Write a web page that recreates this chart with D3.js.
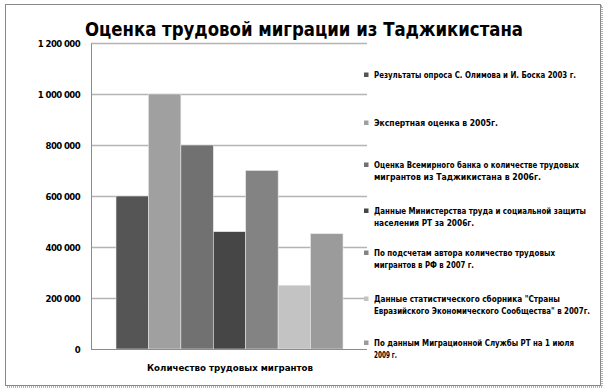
<!DOCTYPE html>
<html>
<head>
<meta charset="utf-8">
<script src="https://cdn.jsdelivr.net/npm/d3@7"></script>
<style>
  body { margin: 0; background: #fff; }
  text { font-family: "DejaVu Sans", sans-serif; font-weight: bold; fill: #000; }
</style>
</head>
<body>
<svg width="608" height="392"></svg>
<script>
const title = "Оценка трудовой миграции из Таджикистана";
const category = "Количество трудовых мигрантов";
const series = [
  ["Результаты опроса С. Олимова и И. Боска 2003 г."],
  ["Экспертная оценка в 2005г."],
  ["Оценка Всемирного банка о количестве трудовых", "мигрантов из Таджикистана в 2006г."],
  ["Данные Министерства труда и социальной защиты", "населения РТ за 2006г."],
  ["По подсчетам автора количество трудовых", "мигрантов в РФ в 2007 г."],
  ["Данные статистического сборника \"Страны", "Евразийского Экономического Сообщества\" в 2007г."],
  ["По данным Миграционной Службы РТ на 1 июля", "2009 г."]
];
const values = [600000, 1000000, 800000, 460000, 700000, 250000, 452000];
const colors = ["#555555", "#a0a0a0", "#717171", "#464646", "#838383", "#c3c3c3", "#9b9b9b"];
const yTicks = [0, 200000, 400000, 600000, 800000, 1000000, 1200000];

const svg = d3.select("svg");

// frame with dotted shadow
svg.append("rect")
  .attr("x", 7).attr("y", 6).attr("width", 595).attr("height", 381)
  .attr("fill", "none").attr("stroke", "#999").attr("stroke-width", 1.5)
  .attr("stroke-dasharray", "1,1");
svg.append("rect")
  .attr("x", 5.5).attr("y", 4.5).attr("width", 595).attr("height", 381)
  .attr("fill", "#fff").attr("stroke", "#888").attr("stroke-width", 1);

const pLeft = 91, pRight = 363, pTop = 43, pBottom = 349;

const y = d3.scaleLinear().domain([0, 1200000]).range([pBottom, pTop]);
const x = d3.scaleBand().domain(d3.range(values.length))
  .range([116, 343]).padding(0);

// gridlines
svg.append("g").selectAll("line")
  .data(yTicks.filter(d => d > 0))
  .enter().append("line")
  .attr("x1", pLeft).attr("x2", pRight + 4)
  .attr("y1", d => Math.round(y(d)) + 0.5).attr("y2", d => Math.round(y(d)) + 0.5)
  .attr("stroke", "#b4b4b4").attr("stroke-width", 1.5);

// bars
svg.append("g").selectAll("rect")
  .data(values)
  .enter().append("rect")
  .attr("x", (d, i) => x(i))
  .attr("y", d => y(d))
  .attr("width", x.bandwidth())
  .attr("height", d => pBottom - y(d))
  .attr("fill", (d, i) => colors[i])
  .attr("stroke", "#e6e6e6")
  .attr("stroke-width", 0.6);

// axes
const yAxis = d3.axisLeft(y).tickValues(yTicks).tickSize(0).tickPadding(11)
  .tickFormat(d => d3.format(",")(d).replace(/,/g, " "));
const ga = svg.append("g").attr("transform", `translate(${pLeft},0)`).call(yAxis);
ga.select(".domain").attr("stroke", "#8c8c8c").attr("stroke-width", 1);
ga.selectAll("text")
  .style("font-size", "9.5px").style("font-weight", "bold")
  .style("font-family", "'DejaVu Sans Condensed', 'DejaVu Sans', sans-serif")
  .attr("letter-spacing", "-0.6");

svg.append("line")
  .attr("x1", pLeft).attr("x2", pRight + 4)
  .attr("y1", pBottom + 0.5).attr("y2", pBottom + 0.5)
  .attr("stroke", "#8c8c8c");

// category label
svg.append("text")
  .attr("x", 230).attr("y", 371)
  .attr("text-anchor", "middle")
  .attr("textLength", 166).attr("lengthAdjust", "spacingAndGlyphs")
  .style("font-size", "8.5px")
  .text(category);

// title
svg.append("text")
  .attr("x", 304).attr("y", 35.5)
  .attr("text-anchor", "middle")
  .attr("textLength", 438).attr("lengthAdjust", "spacingAndGlyphs")
  .style("font-size", "19px").style("font-weight", "900")
  .text(title);

// legend
const legendY = [75, 123, 171, 217, 259, 305, 349];
const lineW = [
  [202],
  [124],
  [205, 167],
  [212, 100],
  [181, 100],
  [186, 216],
  [200, 23]
];
const leg = svg.append("g").selectAll("g")
  .data(series)
  .enter().append("g")
  .attr("transform", (d, i) => `translate(363,${legendY[i]})`);

leg.append("rect")
  .attr("x", 1).attr("y", (d) => d.length > 1 ? -8.5 : -2.5)
  .attr("width", 4.5).attr("height", 4.5)
  .attr("fill", (d, i) => colors[i]);

leg.each(function(d, i) {
  const g = d3.select(this);
  const y0 = d.length > 1 ? -3 : 3;
  d.forEach((line, j) => {
    g.append("text")
      .attr("x", 11).attr("y", y0 + j * 12)
      .attr("textLength", lineW[i][j]).attr("lengthAdjust", "spacingAndGlyphs")
      .style("font-size", "8px")
      .style("font-family", "'DejaVu Sans Condensed', 'DejaVu Sans', sans-serif")
      .text(line);
  });
});
</script>
</body>
</html>
